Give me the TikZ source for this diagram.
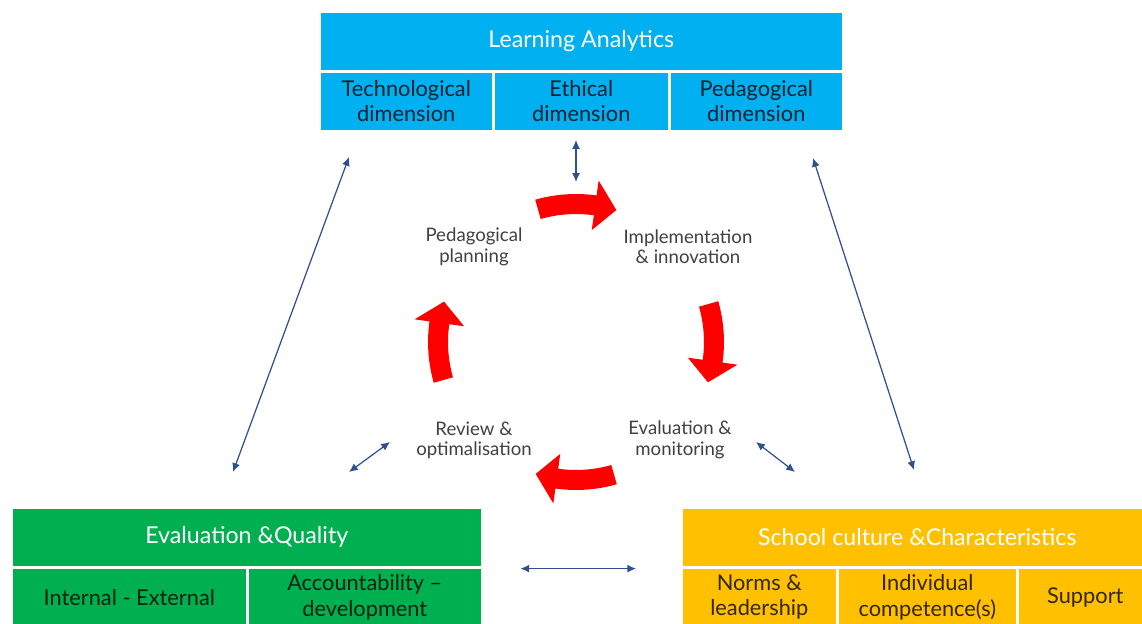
\documentclass[tikz,border=0pt]{standalone}
\usepackage{fontspec}
\setmainfont{Lato}
\usetikzlibrary{arrows.meta}

\definecolor{laBlue}{HTML}{00B0F0}
\definecolor{eqGreen}{HTML}{00B050}
\definecolor{scGold}{HTML}{FFC000}
\definecolor{linkBlue}{HTML}{2F4F8F}
\definecolor{cycleRed}{HTML}{FF0000}
\definecolor{phaseGrey}{HTML}{404040}

\begin{document}
\begin{tikzpicture}[x=0.02cm, y=-0.02cm,
    head/.style={anchor=north west, draw=white, line width=1.5pt, text=white,
      font=\fontsize{13.2}{15}\selectfont, minimum height=1.2cm, inner sep=0pt},
    cell/.style={anchor=north west, draw=white, line width=1.5pt, text=black,
      text opacity=0.8, font=\fontsize{12.4}{14.3}\selectfont, align=center,
      minimum height=1.2cm, inner sep=0pt},
    phase/.style={text=phaseGrey, font=\fontsize{10.6}{11.6}\selectfont, align=center},
    link/.style={linkBlue, line width=0.7pt,
      {Latex[length=5pt,width=4.5pt]}-{Latex[length=5pt,width=4.5pt]}}]
  \useasboundingbox (0,0) rectangle (1142,624);
  % learning analytics block
  \node[head, fill=laBlue, minimum width=10.48cm] (analytics) at (318,10) {Learning Analytics};
  \node[cell, fill=laBlue, minimum width=3.48cm] (tech)  at (318,70) {Technological\\dimension};
  \node[cell, fill=laBlue, minimum width=3.52cm] (ethic) at (492,70) {Ethical\\dimension};
  \node[cell, fill=laBlue, minimum width=3.48cm] (peda)  at (668,70) {Pedagogical\\dimension};
  % evaluation block
  \node[head, fill=eqGreen, minimum width=9.42cm] (quality) at (10,506) {Evaluation \&Quality};
  \node[cell, fill=eqGreen, minimum width=4.72cm] (intext)  at (10,566) {Internal - External};
  \node[cell, fill=eqGreen, minimum width=4.70cm] (account) at (246,566) {Accountability --\\development};
  % school culture block
  \node[head, fill=scGold, minimum width=9.44cm] (culture) at (680,506) {School culture \&Characteristics};
  \node[cell, fill=scGold, minimum width=3.12cm] (norms)   at (680,566) {Norms \&\\leadership};
  \node[cell, fill=scGold, minimum width=3.60cm] (compet)  at (836,566) {Individual\\competence(s)};
  \node[cell, fill=scGold, minimum width=2.72cm] (support) at (1016,566) {Support};
  % phases of the cycle
  \node[phase] (planning)  at (474,247) {Pedagogical\\planning};
  \node[phase] (implement) at (688,247) {Implementation\\\& innovation};
  \node[phase] (monitor)   at (680,440) {Evaluation \&\\monitoring};
  \node[phase] (review)    at (474,440) {Review \&\\optimalisation};
  % red cycle arrows
  \begin{scope}[shift={(576,342)}]
    \foreach \a in {106,16,-74,-164}
      \fill[cycleRed] (\a:2.96cm) arc[start angle=\a, end angle=\a-24, radius=2.96cm]
        -- ({\a-24}:3.26cm) -- ({\a-33}:2.76cm) -- ({\a-24}:2.26cm) -- ({\a-24}:2.56cm)
        arc[start angle=\a-24, end angle=\a, radius=2.56cm] -- cycle;
  \end{scope}
  % ends of the links
  \coordinate (ethicend)   at (576,140);
  \coordinate (cycletop)   at (576,182);
  \coordinate (techend)    at (349,157);
  \coordinate (qualityend) at (233,472);
  \coordinate (pedaend)    at (813,158);
  \coordinate (cultureend) at (914,470);
  \coordinate (reviewend)  at (390,442);
  \coordinate (reviewlow)  at (349,472);
  \coordinate (monitorend) at (756,442);
  \coordinate (monitorlow) at (795,472);
  % blue links
  \draw[link] (ethicend) -- (cycletop);
  \draw[link] (techend) -- (qualityend);
  \draw[link] (pedaend) -- (cultureend);
  \draw[link] (reviewend) -- (reviewlow);
  \draw[link] (monitorend) -- (monitorlow);
  \draw[link, shorten <=21pt, shorten >=25pt] (quality.south east) -- (culture.south west);
\end{tikzpicture}
\end{document}
